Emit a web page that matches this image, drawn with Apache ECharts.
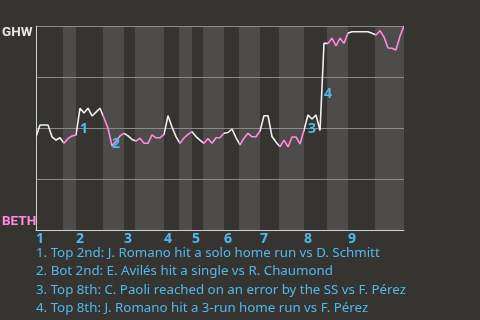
<!DOCTYPE html>
<html>
<head>
<meta charset="utf-8">
<script src="https://cdn.jsdelivr.net/npm/echarts@6/dist/echarts.min.js"></script>
<style>
html,body{margin:0;padding:0;background:#363431;}
#chart{width:480px;height:320px;}
</style>
</head>
<body>
<div id="chart"></div>
<script>
// GHW win probability after each plate appearance (0 = BETH wins, 1 = GHW wins)
const winProb = [
  0.457, 0.515, 0.515, 0.515, 0.457, 0.441, 0.452, 0.425, 0.449, 0.461,
  0.466, 0.597, 0.574, 0.597, 0.559, 0.578, 0.597, 0.549, 0.500, 0.412,
  0.436, 0.461, 0.474, 0.461, 0.444, 0.436, 0.450, 0.425, 0.425, 0.466,
  0.452, 0.452, 0.469, 0.560, 0.505, 0.458, 0.425, 0.451, 0.469, 0.482,
  0.458, 0.441, 0.425, 0.449, 0.425, 0.452, 0.452, 0.474, 0.478, 0.495,
  0.453, 0.417, 0.450, 0.474, 0.457, 0.457, 0.485, 0.560, 0.560, 0.458,
  0.431, 0.408, 0.441, 0.407, 0.456, 0.456, 0.422, 0.490, 0.564, 0.544,
  0.564, 0.488, 0.915, 0.915, 0.940, 0.902, 0.940, 0.915, 0.966, 0.972,
  0.972, 0.972, 0.972, 0.972, 0.964, 0.956, 0.977, 0.946, 0.892, 0.891,
  0.882, 0.951, 1.000
];
// half-inning boundaries, in plate-appearance units
const inningLabels = ['1', '2', '3', '4', '5', '6', '7', '8', '9'];
const topStarts    = [0, 10, 22, 32, 39, 47, 56, 67, 78];
const bottomStarts = [6.75, 16.75, 24.75, 35.75, 41.75, 50.75, 60.75, 72.75, 84.75];
const gameEnd = 92;
const teams = { top: 'GHW', bottom: 'BETH' };
// key events: index of the plate appearance that ends the event
const eventIndex = [11, 19, 68, 72];
const eventTexts = [
  'Top 2nd: J. Romano hit a solo home run vs D. Schmitt',
  'Bot 2nd: E. Avilés hit a single vs R. Chaumond',
  'Top 8th: C. Paoli reached on an error by the SS vs F. Pérez',
  'Top 8th: J. Romano hit a 3-run home run vs F. Pérez'
];

const BG = '#363431', BAND = '#4e4c4a', WHITE = '#efefef', PINK = '#ff8ade', BLUE = '#4fb9ea';
const FONT = '"Noto Sans", sans-serif';
const TEAM_FONT = 'Roboto, "Noto Sans", sans-serif';

const lineData = winProb.map((v, i) => [i, v]);
const bands = bottomStarts.map((s, k) => [
  { xAxis: s },
  { xAxis: k + 1 < topStarts.length ? topStarts[k + 1] : gameEnd }
]);
const pieces = [];
topStarts.forEach((s, k) => {
  pieces.push({ gte: s, lt: bottomStarts[k], color: WHITE });
  const end = k + 1 < topStarts.length ? topStarts[k + 1] : gameEnd;
  pieces.push(k + 1 < topStarts.length ? { gte: bottomStarts[k], lt: end, color: PINK }
                                       : { gte: bottomStarts[k], lte: end, color: PINK });
});
const marks = eventIndex.map((e, n) => ({
  coord: [e - 0.5, (winProb[e - 1] + winProb[e]) / 2],
  value: String(n + 1)
}));

const chart = echarts.init(document.getElementById('chart'), null, { renderer: 'canvas' });
chart.setOption({
  backgroundColor: BG,
  animation: false,
  textStyle: { fontFamily: FONT },
  title: {
    text: eventTexts.map((t, i) => (i + 1) + '. ' + t).join('\n'),
    left: 36, top: 244, padding: 0,
    textStyle: { color: BLUE, fontSize: 13.3, fontWeight: 'normal', lineHeight: 18.3, fontFamily: FONT }
  },
  grid: { left: 36, right: 76, top: 26, bottom: 90, containLabel: false, outerBoundsMode: 'none' },
  visualMap: {
    show: false, type: 'piecewise', dimension: 0, seriesIndex: 0, pieces: pieces
  },
  xAxis: {
    type: 'value', min: 0, max: gameEnd, z: 1.5,
    axisLine: { show: true, lineStyle: { color: '#d2d2d2', width: 1 } },
    axisTick: { show: false },
    splitLine: { show: false },
    axisLabel: {
      customValues: topStarts,
      formatter: v => inningLabels[topStarts.indexOf(v)] || '',
      align: 'left', margin: 2,
      color: BLUE, fontWeight: 'bold', fontSize: 14, fontFamily: FONT
    }
  },
  yAxis: {
    type: 'value', min: 0, max: 1, interval: 0.25, z: 1.5,
    axisLine: { show: true, lineStyle: { color: '#d2d2d2', width: 1 } },
    axisTick: { show: false },
    splitLine: { show: true, lineStyle: { color: '#8a8a8a', width: 1 } },
    axisLabel: {
      margin: 34, align: 'left',
      formatter: v => v === 1 ? '{t|' + teams.top + '}' : (v === 0 ? '{b|' + teams.bottom + '}' : ''),
      rich: {
        t: { color: '#e6e6e6', fontWeight: 700, fontSize: 13.5, fontFamily: TEAM_FONT, padding: [14, 0, 0, 0] },
        b: { color: PINK, fontWeight: 700, fontSize: 13.5, fontFamily: TEAM_FONT, padding: [0, 0, 17, 0] }
      }
    }
  },
  series: [{
    type: 'line',
    data: lineData,
    showSymbol: false,
    symbol: 'none',
    lineStyle: { width: 1.6 },
    z: 3,
    markArea: {
      silent: true,
      itemStyle: { color: BAND, opacity: 1 },
      data: bands
    },
    markPoint: {
      silent: true,
      symbol: 'circle', symbolSize: 1,
      itemStyle: { color: 'rgba(0,0,0,0)' },
      label: {
        show: true, position: 'inside', offset: [6, 7],
        formatter: p => p.value,
        color: BLUE, fontWeight: 'bold', fontSize: 14, fontFamily: FONT
      },
      data: marks
    }
  }]
});
</script>
</body>
</html>
